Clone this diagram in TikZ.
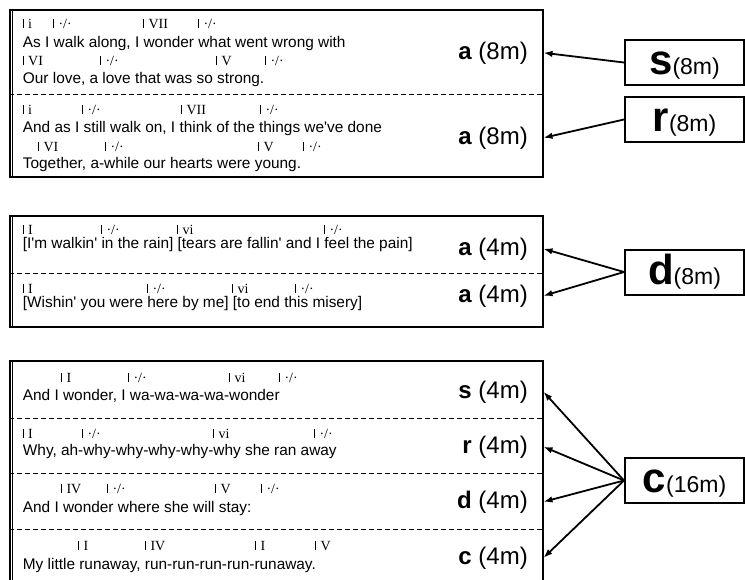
\documentclass[tikz,border=0pt]{standalone}
\usepackage{fontspec}
\setmainfont{Liberation Sans}[Ligatures=TeXOff]
\newfontfamily\chordfont{Liberation Serif}
\usetikzlibrary{positioning}
\usetikzlibrary{arrows.meta}
\newcommand{\simile}{·/·}
\newcommand{\cbar}{\rule{0.7pt}{0.64em}\hspace{0.33em}}

\begin{document}
\begin{tikzpicture} [x=1pt, y=-1pt, >={Latex[length=9pt,width=6.5pt]}]
            % Set primary nodes
            \tikzset{
                blockNode/.style={
                        draw,
                        rectangle,
                        line width=2pt,
                        minimum width=532.5pt,
                        inner sep=0pt
                    }
            }
            \tikzset{
                partNode/.style={
                        draw,
                        rectangle,
                        line width=2pt,
                        minimum width=119pt,
                        minimum height=45pt,
                        inner sep=0pt,
                        text height=26pt,
                        text depth=2pt
                    }
            }
            \tikzset{
                chord/.style={
                        anchor=base west,
                        inner sep=0pt,
                        font=\chordfont\fontsize{14}{16}\selectfont
                    }
            }
            \tikzset{
                lyric/.style={
                        anchor=base west,
                        inner sep=0pt,
                        font=\fontsize{15.4}{18}\selectfont
                    }
            }
            \tikzset{
                label/.style={
                        anchor=base east,
                        inner sep=0pt,
                        font=\fontsize{24}{28}\selectfont
                    }
            }
            \tikzset{
                divider/.style={
                        line width=0.8pt,
                        dash pattern=on 5pt off 3pt
                    }
            }
            % Configure arrows
            \tikzstyle{arrow} = [line width=1.8pt, ->]
            \useasboundingbox (0,0) rectangle (745,579);
            % Placing nodes
            \node[blockNode, minimum height=167pt](verseA) at (276.25,93.5){};
            \node[blockNode, minimum height=111pt](bridge) at (276.25,271.5){};
            \node[blockNode, minimum height=229pt](chorus) at (276.25,475.5){};
            \node[partNode](sPart) at (684.5,62.5){{\fontsize{42}{42}\selectfont\bfseries s}{\fontsize{23}{25}\selectfont(8m)}};
            \node[partNode](rPart) at (684.5,119.5){{\fontsize{42}{42}\selectfont\bfseries r}{\fontsize{23}{25}\selectfont(8m)}};
            \node[partNode](dPart) at (684.5,272){{\fontsize{42}{42}\selectfont\bfseries d}{\fontsize{23}{25}\selectfont(8m)}};
            \node[partNode](cPart) at (684.5,480.5){{\fontsize{42}{42}\selectfont\bfseries c}{\fontsize{23}{25}\selectfont(16m)}};
            % Inner left lines and dividers
            \foreach \b in {verseA,bridge,chorus}
                \draw[line width=0.6pt] ([xshift=3.5pt]\b.north west) -- ([xshift=3.5pt]\b.south west);
            \draw[divider](verseA.west |- 0,94) -- (verseA.east |- 0,94);
            \draw[divider](bridge.west |- 0,273) -- (bridge.east |- 0,273);
            \draw[divider](chorus.west |- 0,418) -- (chorus.east |- 0,418);
            \draw[divider](chorus.west |- 0,473.5) -- (chorus.east |- 0,473.5);
            \draw[divider](chorus.west |- 0,529.5) -- (chorus.east |- 0,529.5);
            % Verse lines
            \foreach \x/\c [count=\n] in {22.7/i, 53/\simile, 143/VII, 198/\simile}
                \node[chord](chA1-\n) at (\x,28){\cbar\c};
            \node[lyric](lyA1) at (22.7,47){As I walk along, I wonder what went wrong with};
            \foreach \x/\c [count=\n] in {22.7/VI, 100/\simile, 216/V, 265/\simile}
                \node[chord](chA2-\n) at (\x,65){\cbar\c};
            \node[lyric](lyA2) at (22.7,83){Our love, a love that was so strong.};
            \foreach \x/\c [count=\n] in {22.7/i, 82/\simile, 181/VII, 260/\simile}
                \node[chord](chA3-\n) at (\x,114){\cbar\c};
            \node[lyric](lyA3) at (22.7,132){And as I still walk on, I think of the things we've done};
            \foreach \x/\c [count=\n] in {38/VI, 105/\simile, 258/V, 303/\simile}
                \node[chord](chA4-\n) at (\x,151){\cbar\c};
            \node[lyric](lyA4) at (22.7,168){Together, a-while our hearts were young.};
            % Bridge lines
            \foreach \x/\c [count=\n] in {22.7/I, 101/\simile, 177/vi, 324/\simile}
                \node[chord](chB1-\n) at (\x,234){\cbar\c};
            \node[lyric](lyB1) at (22.7,248){[I'm walkin' in the rain] [tears are fallin' and I feel the pain]};
            \foreach \x/\c [count=\n] in {22.7/I, 147/\simile, 232/vi, 295/\simile}
                \node[chord](chB2-\n) at (\x,293){\cbar\c};
            \node[lyric](lyB2) at (22.7,307){[Wishin' you were here by me] [to end this misery]};
            % Chorus lines
            \foreach \x/\c [count=\n] in {61/I, 128/\simile, 229/vi, 279/\simile}
                \node[chord](chC1-\n) at (\x,382){\cbar\c};
            \node[lyric](lyC1) at (22.7,400){And I wonder, I wa-wa-wa-wa-wonder};
            \foreach \x/\c [count=\n] in {22.7/I, 82/\simile, 213/vi, 314/\simile}
                \node[chord](chC2-\n) at (\x,438){\cbar\c};
            \node[lyric](lyC2) at (22.7,455){Why, ah-why-why-why-why-why she ran away};
            \foreach \x/\c [count=\n] in {61/IV, 107/\simile, 215/V, 261/\simile}
                \node[chord](chC3-\n) at (\x,493){\cbar\c};
            \node[lyric](lyC3) at (22.7,512){And I wonder where she will stay:};
            \foreach \x/\c [count=\n] in {78/I, 145/IV, 255/I, 315/V}
                \node[chord](chC4-\n) at (\x,550){\cbar\c};
            \node[lyric](lyC4) at (22.7,569){My little runaway, run-run-run-run-runaway.};
            % Part labels
            \node[label](aA1) at (528,59){\textbf{a} (8m)};
            \node[label](aA2) at (528,144){\textbf{a} (8m)};
            \node[label](aB1) at (528,255){\textbf{a} (4m)};
            \node[label](aB2) at (528,302){\textbf{a} (4m)};
            \node[label](sC) at (528,398){\textbf{s} (4m)};
            \node[label](rC) at (528,453){\textbf{r} (4m)};
            \node[label](dC) at (528,508){\textbf{d} (4m)};
            \node[label](cC) at (528,564){\textbf{c} (4m)};
            % Draw arrows
            \draw[arrow](sPart.west) -- (verseA.east |- aA1);
            \draw[arrow](rPart.west) -- (verseA.east |- aA2);
            \draw[arrow](dPart.west) -- (bridge.east |- aB1);
            \draw[arrow](dPart.west) -- (bridge.east |- aB2);
            \draw[arrow](cPart.west) -- (chorus.east |- sC);
            \draw[arrow](cPart.west) -- (chorus.east |- rC);
            \draw[arrow](cPart.west) -- (chorus.east |- dC);
            \draw[arrow](cPart.west) -- (chorus.east |- cC);
        \end{tikzpicture}
\end{document}
